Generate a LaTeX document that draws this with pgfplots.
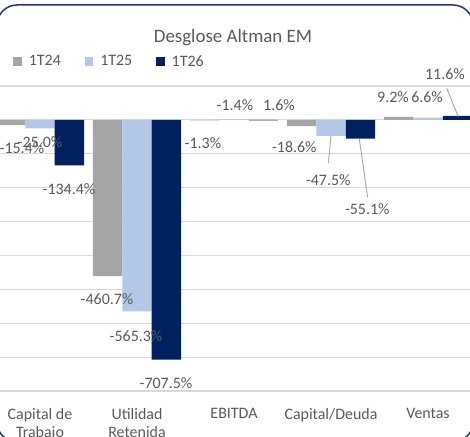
\documentclass[border=0pt]{standalone}
\usepackage{fontspec}
\setmainfont{Carlito}
\usepackage{pgfplots}
\pgfplotsset{compat=1.18}
\definecolor{g24}{HTML}{A5A5A5}
\definecolor{b25}{HTML}{B4C7E7}
\definecolor{n26}{HTML}{002060}
\definecolor{txt}{HTML}{595959}
\definecolor{grd}{HTML}{D9D9D9}
\definecolor{frm}{HTML}{1F3864}
\definecolor{lead}{HTML}{A6A6A6}

\begin{document}
\begin{tikzpicture}[x=1bp,y=1bp]
\clip (0,0) rectangle (470,437);
\draw[frm, line width=1.5bp, rounded corners=20bp] (-3,-5) rectangle (473,432);
\node[txt, font=\fontsize{19}{22}\selectfont] at (233,399) {Desglose Altman EM};
\begin{axis}[at={(-8.5bp,46bp)}, anchor=south west, scale only axis,
  width=485bp, height=305bp,
  xmin=-0.5, xmax=4.5, ymin=-800, ymax=100,
  ytick={-800,-700,...,100}, yticklabel={},
  ymajorgrids, grid style={grd, line width=1.2bp},
  xtick={0,1,2,3,4},
  xticklabels={{Capital de\\Trabajo},{Utilidad\\Retenida},EBITDA,Capital/Deuda,Ventas},
  xticklabel style={txt, font=\fontsize{16}{18.5}\selectfont, align=center, inner sep=0pt, yshift=-17bp},
  major tick length=0pt, tick style={draw=none}, axis line style={draw=none},
  clip=false, ybar, bar width=0.304,
  legend columns=3,
  legend image code/.code={\fill[#1] (0bp,-4.2bp) rectangle (8.4bp,4.2bp);},
  legend style={draw=none, fill=none, at={(axis description cs:0.0449,1.0803)}, anchor=west,
    inner sep=0pt, nodes={inner sep=0pt, text=txt, font=\fontsize{16}{18}\selectfont},
    /tikz/every odd column/.append style={column sep=7bp},
    /tikz/every even column/.append style={column sep=24bp}},
  legend cell align=left]
\addplot[fill=g24, draw=none, bar shift=-0.304] coordinates {(0,-15.4) (1,-460.7) (2,-1.4) (3,-18.6) (4,9.2)};
\addplot[fill=b25, draw=none, bar shift=0] coordinates {(0,-25.0) (1,-565.3) (2,1.6) (3,-47.5) (4,6.6)};
\addplot[fill=n26, draw=none, bar shift=0.304] coordinates {(0,-134.4) (1,-707.5) (2,-1.3) (3,-55.1) (4,11.6)};
\legend{1T24,1T25,1T26}
\tikzset{lbl/.style={txt, font=\fontsize{16}{18}\selectfont, inner sep=0pt}}
\draw[lead, line width=0.9bp] (axis cs:3.0,-47.2) -- (axis cs:2.972,-127.8);
\draw[lead, line width=0.9bp] (axis cs:3.292,-57) -- (axis cs:3.378,-228);
\draw[lead, line width=0.9bp] (axis cs:4.312,9.7) -- (axis cs:4.193,93.5);
\node[lbl] at (axis cs:-0.186,-82.6) {-15.4\%};
\node[lbl] at (axis cs:0,-65) {-25.0\%};
\node[lbl] at (axis cs:0.299,-203.6) {-134.4\%};
\node[lbl] at (axis cs:0.691,-528) {-460.7\%};
\node[lbl] at (axis cs:0.990,-637) {-565.3\%};
\node[lbl] at (axis cs:1.299,-776) {-707.5\%};
\node[lbl] at (axis cs:1.680,-68) {-1.3\%};
\node[lbl] at (axis cs:2.010,44) {-1.4\%};
\node[lbl] at (axis cs:2.464,44) {1.6\%};
\node[lbl] at (axis cs:2.622,-81.7) {-18.6\%};
\node[lbl] at (axis cs:2.972,-177) {-47.5\%};
\node[lbl] at (axis cs:3.374,-262.6) {-55.1\%};
\node[lbl] at (axis cs:3.639,67.9) {9.2\%};
\node[lbl] at (axis cs:3.990,67.9) {6.6\%};
\node[lbl] at (axis cs:4.175,135.7) {11.6\%};
\end{axis}
\end{tikzpicture}
\end{document}
